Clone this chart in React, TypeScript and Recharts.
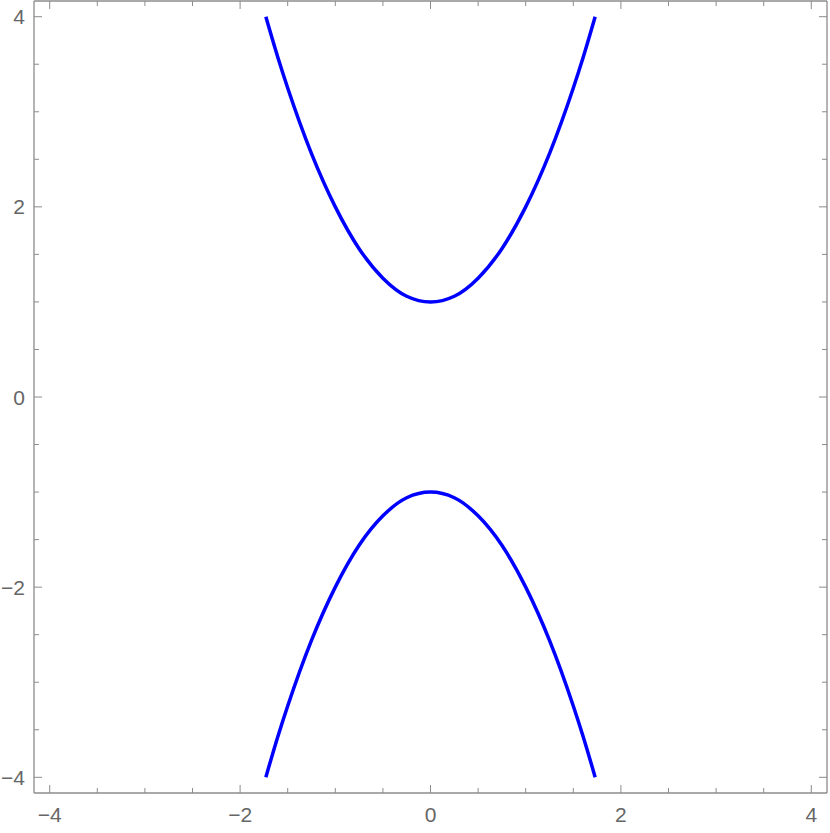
import { LineChart, Line, XAxis, YAxis } from "recharts";

// points (upper and lower branches)
const upperX = [-1.73, -1.6, -1.5, -1.25, -1.0, -0.75, -0.5, -0.25, 0, 0.25, 0.5, 0.75, 1.0, 1.25, 1.5, 1.6, 1.73];
const upperY = [4.0, 3.56, 3.25, 2.56, 2.0, 1.56, 1.25, 1.06, 1.0, 1.06, 1.25, 1.56, 2.0, 2.56, 3.25, 3.56, 4.0];
const lowerX = [-1.73, -1.6, -1.5, -1.25, -1.0, -0.75, -0.5, -0.25, 0, 0.25, 0.5, 0.75, 1.0, 1.25, 1.5, 1.6, 1.73];
const lowerY = [-4.0, -3.56, -3.25, -2.56, -2.0, -1.56, -1.25, -1.06, -1.0, -1.06, -1.25, -1.56, -2.0, -2.56, -3.25, -3.56, -4.0];

const tickValues = [-4, -3.5, -3, -2.5, -2, -1.5, -1, -0.5, 0, 0.5, 1, 1.5, 2, 2.5, 3, 3.5, 4];
const labelledTicks = [-4, -2, 0, 2, 4];

const upper = upperX.map((x, i) => ({ x, y: upperY[i] }));
const lower = lowerX.map((x, i) => ({ x, y: lowerY[i] }));

const DOMAIN: [number, number] = [-4.165, 4.165];
const FRAME = "#8c8c8c";
const LABEL = "#666666";
const FONT = "'Liberation Sans', Arial, sans-serif";

const fmt = (v: number) => (v < 0 ? "\u2212" + Math.abs(v) : String(v));

// ticks point into the plot, labels sit outside
function makeTick(side: "bottom" | "top" | "left" | "right") {
  return (props: any) => {
    const { x, y, payload } = props;
    const v = payload.value as number;
    const major = labelledTicks.includes(v);
    const len = major ? 8 : 5;
    if (side === "bottom") {
      return (
        <g>
          <line x1={x} y1={y} x2={x} y2={y - len} stroke={FRAME} strokeWidth={1} />
          {major && (
            <text x={x} y={y + 29} textAnchor="middle" fill={LABEL} fontSize={21} fontFamily={FONT}>
              {fmt(v)}
            </text>
          )}
        </g>
      );
    }
    if (side === "top") {
      return <line x1={x} y1={y} x2={x} y2={y + len} stroke={FRAME} strokeWidth={1} />;
    }
    if (side === "left") {
      return (
        <g>
          <line x1={x} y1={y} x2={x + len} y2={y} stroke={FRAME} strokeWidth={1} />
          {major && (
            <text x={x - 9} y={y + 7.5} textAnchor="end" fill={LABEL} fontSize={21} fontFamily={FONT}>
              {fmt(v)}
            </text>
          )}
        </g>
      );
    }
    return <line x1={x} y1={y} x2={x - len} y2={y} stroke={FRAME} strokeWidth={1} />;
  };
}

export default function App() {
  return (
    <div style={{ position: "absolute", left: 0, top: 0, background: "#fff" }}>
      <LineChart width={830} height={833} margin={{ top: 0, right: 0, bottom: 0, left: 0 }}>
        <XAxis
          xAxisId="b"
          type="number"
          dataKey="x"
          orientation="bottom"
          domain={DOMAIN}
          ticks={tickValues}
          allowDataOverflow
          height={40}
          tickSize={0}
          tickMargin={0}
          tickLine={false}
          axisLine={{ stroke: FRAME, strokeWidth: 1.3 }}
          tick={makeTick("bottom")}
          interval={0}
        />
        <XAxis
          xAxisId="t"
          type="number"
          dataKey="x"
          orientation="top"
          domain={DOMAIN}
          ticks={tickValues}
          allowDataOverflow
          height={1}
          tickSize={0}
          tickMargin={0}
          tickLine={false}
          axisLine={{ stroke: FRAME, strokeWidth: 1.3 }}
          tick={makeTick("top")}
          interval={0}
        />
        <YAxis
          yAxisId="l"
          type="number"
          dataKey="y"
          orientation="left"
          domain={DOMAIN}
          ticks={tickValues}
          allowDataOverflow
          width={34}
          tickSize={0}
          tickMargin={0}
          tickLine={false}
          axisLine={{ stroke: FRAME, strokeWidth: 1.3 }}
          tick={makeTick("left")}
          interval={0}
        />
        <YAxis
          yAxisId="r"
          type="number"
          dataKey="y"
          orientation="right"
          domain={DOMAIN}
          ticks={tickValues}
          allowDataOverflow
          width={3}
          tickSize={0}
          tickMargin={0}
          tickLine={false}
          axisLine={{ stroke: FRAME, strokeWidth: 1.3 }}
          tick={makeTick("right")}
          interval={0}
        />
        <Line
          xAxisId="b"
          yAxisId="l"
          data={upper}
          dataKey="y"
          type="monotone"
          stroke="#0000ff"
          strokeWidth={3.5}
          dot={false}
          isAnimationActive={false}
        />
        <Line
          xAxisId="b"
          yAxisId="l"
          data={lower}
          dataKey="y"
          type="monotone"
          stroke="#0000ff"
          strokeWidth={3.5}
          dot={false}
          isAnimationActive={false}
        />
      </LineChart>
    </div>
  );
}
